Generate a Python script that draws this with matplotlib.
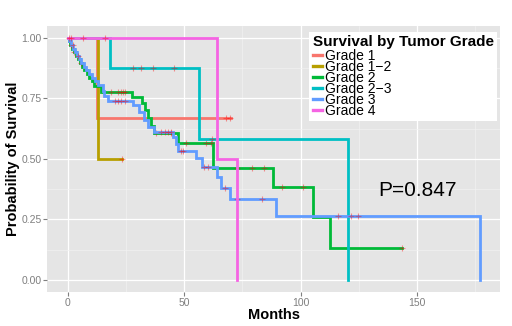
import matplotlib.pyplot as plt
import numpy as np

plt.rcParams['font.family'] = ['Liberation Sans', 'DejaVu Sans']

# Kaplan-Meier step estimates per tumour grade (event times in months, survival after each step)
g1_times = [0, 12.4]
g1_surv = [1.0, 0.667]
g1_end = 70.2
g1_cens = [67.8, 69.8]

g12_times = [0, 12.8]
g12_surv = [1.0, 0.5]
g12_end = 23.1
g12_cens = [23.1]

g2_times = [0, 0.3, 1.0, 1.8, 2.5, 3.3, 4.2, 5.0, 6.0, 7.0, 8.0, 9.2, 10.3, 11.4, 14.3,
            27.6, 31.8, 33.2, 34.2, 35.7, 37.1, 47.3, 62.3, 88.0, 105.1, 112.7]
g2_surv = [1.0, 0.985, 0.97, 0.955, 0.94, 0.925, 0.91, 0.895, 0.88, 0.865, 0.85, 0.835, 0.82, 0.80, 0.777,
           0.754, 0.729, 0.70, 0.667, 0.636, 0.605, 0.564, 0.463, 0.385, 0.259, 0.131]
g2_end = 143.4
g2_cens = [1.2, 2.8, 5.5, 18.4, 21.6, 22.7, 23.8, 24.5, 37.8, 44.2, 50.9, 59.2, 61.4,
           72.8, 79.2, 84.2, 92.0, 100.9, 143.4]

g23_times = [0, 18.0, 56.4, 120.2]
g23_surv = [1.0, 0.875, 0.583, 0.0]
g23_end = 120.2
g23_cens = [27.8, 31.4, 36.4, 45.7, 62.0]

g3_times = [0, 0.6, 1.4, 2.2, 3.0, 3.8, 4.8, 5.8, 6.8, 7.8, 9.0, 10.2, 11.5, 12.8, 15.0, 15.7, 17.3,
            27.8, 30.7, 32.8, 34.5, 36.8, 45.3, 46.5, 47.5, 55.0, 57.8, 64.0, 65.6, 69.6, 89.4, 176.9]
g3_surv = [1.0, 0.985, 0.97, 0.955, 0.94, 0.925, 0.91, 0.895, 0.88, 0.865, 0.85, 0.835, 0.82, 0.805, 0.78, 0.759, 0.739,
           0.722, 0.695, 0.66, 0.633, 0.612, 0.591, 0.56, 0.532, 0.502, 0.468, 0.424, 0.381, 0.334, 0.265, 0.0]
g3_end = 176.9
g3_cens = [2.0, 4.5, 20.4, 21.5, 23.0, 24.5, 40.0, 41.8, 42.8, 44.2, 48.5, 49.5, 58.5, 60.3, 67.5,
           72.8, 83.4, 116.0, 121.7, 124.5]

g4_times = [0, 64.2, 72.5]
g4_surv = [1.0, 0.5, 0.0]
g4_end = 72.5
g4_cens = [0.5, 1.5, 6.4, 16.0]

labels = ['Grade 1', 'Grade 1\u22122', 'Grade 2', 'Grade 2\u22123', 'Grade 3', 'Grade 4']
colors = ['#F8766D', '#B79F00', '#00BA38', '#00BFC4', '#619CFF', '#F564E3']
p_label = 'P=0.847'

groups = [
    (g1_times, g1_surv, g1_end, g1_cens),
    (g12_times, g12_surv, g12_end, g12_cens),
    (g2_times, g2_surv, g2_end, g2_cens),
    (g23_times, g23_surv, g23_end, g23_cens),
    (g3_times, g3_surv, g3_end, g3_cens),
    (g4_times, g4_surv, g4_end, g4_cens),
]

fig = plt.figure(figsize=(5.12, 3.26), dpi=100)
ax = fig.add_axes([0.0924, 0.1043, 0.8846, 0.8172])

# ggplot-style grey panel
ax.set_facecolor('#E5E5E5')
for s in ax.spines.values():
    s.set_visible(False)
ax.set_xticks([0, 50, 100, 150])
ax.set_yticks([0, 0.25, 0.5, 0.75, 1.0])
ax.set_yticklabels(['0.00', '0.25', '0.50', '0.75', '1.00'])
ax.set_xticks([25, 75, 125, 175], minor=True)
ax.set_yticks([0.125, 0.375, 0.625, 0.875], minor=True)
ax.grid(which='major', color='white', linewidth=0.9)
ax.grid(which='minor', color='#F2F2F2', linewidth=0.45)
ax.set_axisbelow(True)
ax.tick_params(which='major', length=3, color='#7F7F7F', labelcolor='#7F7F7F', labelsize=7.5, pad=1)
ax.tick_params(which='minor', length=0)

for (t, s, end, cens), col, lab in zip(groups, colors, labels):
    tx = list(t) + [end]
    sy = list(s) + [s[-1]]
    ax.step(tx, sy, where='post', color=col, linewidth=2.0, label=lab, solid_joinstyle='miter')
    idx = np.searchsorted(np.array(t), np.array(cens), side='right') - 1
    ax.plot(cens, np.array(s)[idx], linestyle='none', marker='+', color='red',
            alpha=0.4, markersize=4, markeredgewidth=0.8)

ax.text(150, 0.37, p_label, fontsize=15, ha='center', va='center', color='black')

ax.set_xlim(-8.85, 185.75)
ax.set_ylim(-0.05, 1.05)
ax.set_xlabel('Months', fontsize=10.5, fontweight='bold', labelpad=0)
ax.set_ylabel('Probability of Survival', fontsize=10.5, fontweight='bold', labelpad=1)

leg = ax.legend(title='Survival by Tumor Grade', loc='upper right', bbox_to_anchor=(0.993, 0.977),
                borderaxespad=0, fontsize=10, title_fontproperties={'weight': 'bold', 'size': 11},
                frameon=True, fancybox=False, edgecolor='none', facecolor='white', framealpha=1,
                handlelength=0.65, handletextpad=0.25, labelspacing=-0.22, borderpad=0.25,
                alignment='left')
leg._legend_box.sep = 0
for h in leg.get_lines():
    h.set_linewidth(2.4)

plt.savefig('out.png', dpi=100)
